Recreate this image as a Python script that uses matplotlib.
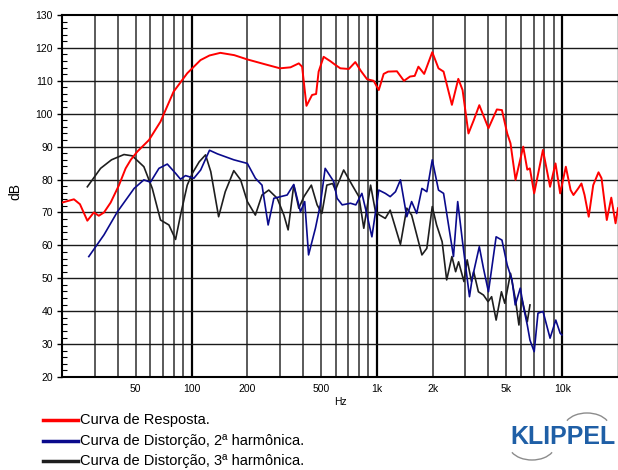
import matplotlib
matplotlib.use("Agg")
import matplotlib.pyplot as plt
from matplotlib.patches import Arc
import numpy as np

plt.rcParams['font.family'] = ['Liberation Sans', 'DejaVu Sans']

# Curva de resposta (Hz, dB)
red_f = [20, 23.2, 25, 27.4, 29.7, 31.6, 33.7, 36.6, 40.6, 44.1, 47, 51, 58.9, 68, 80, 94.8,
         111.8, 125, 143, 170, 200, 250, 300, 342, 379, 395, 417, 447, 470, 485, 516, 560,
         598, 635, 706, 765, 820, 885, 961, 1024, 1088, 1150, 1283, 1400, 1510, 1600, 1675,
         1800, 1990, 2150, 2290, 2540, 2750, 2900, 3120, 3330, 3570, 4000, 4440, 4730, 5050,
         5260, 5600, 6160, 6480, 6690, 7060, 7870, 8600, 9200, 9750, 10460, 11100, 11500,
         12200, 12700, 13200, 13900, 14700, 15700, 16300, 17400, 18400, 19400, 20000]
red_db = [73, 74, 72.5, 67.5, 70, 69, 70, 73, 78.3, 83.4, 86, 88.5, 92, 97.6, 106.7, 112.3,
          116.3, 117.7, 118.5, 117.8, 116.5, 115, 113.8, 114.1, 115.3, 114.3, 102.4, 105.7,
          106, 112.8, 117.3, 116, 114.8, 113.8, 113.6, 115.7, 113, 110.5, 110, 107.2, 112.1,
          112.8, 112.9, 110, 111.3, 111.5, 114.3, 112.1, 118.7, 113.8, 112.8, 102.7, 110.6,
          107.2, 94, 98, 102.6, 95.6, 101.3, 101.1, 94, 91, 79.9, 90, 83, 83.4, 75.8, 89,
          77.8, 84.9, 75.8, 83.9, 76.8, 75.3, 77.3, 78.8, 75.3, 68.7, 78.3, 82.2, 80.4, 67.7,
          74.5, 66.7, 71.3]

# Distorcao 2a harmonica
blue_f = [27.9, 33.7, 39.8, 49, 55.3, 60, 66.7, 74, 82, 87.2, 92.8, 103, 112, 125, 138, 169,
          200, 221, 240, 259, 278, 302, 328, 356, 387, 408, 428, 466, 495, 526, 585, 610, 650,
          720, 770, 830, 885, 940, 1024, 1110, 1180, 1260, 1340, 1450, 1540, 1640, 1750, 1860,
          1990, 2150, 2290, 2590, 2730, 2900, 3160, 3270, 3570, 3760, 4000, 4400, 4730, 5050,
          5360, 5580, 5940, 6200, 6480, 6700, 7060, 7400, 7880, 8600, 9230, 9750, 9960]
blue_db = [56.6, 63.2, 70.2, 77.3, 79.9, 79.2, 83.4, 84.7, 81.9, 80.1, 81.2, 80.4, 82.9, 88.9,
           87.8, 86, 84.9, 80.4, 78.3, 66.2, 74.3, 74.8, 75.3, 78.5, 70.2, 73.3, 57.1, 65.2,
           72.3, 83.4, 79.4, 74.3, 72.3, 72.8, 72.3, 75.8, 69.2, 62.6, 76.8, 75.8, 74.8, 76.3,
           79.9, 68.7, 73.3, 69.7, 77.3, 76.3, 86, 76.8, 75.8, 56.6, 73.3, 61, 44.4, 50, 59.6,
           53, 45.9, 62.6, 61.6, 54, 49.5, 41.9, 47, 40.9, 35.8, 31.2, 27.7, 39.4, 39.9, 31.8,
           37.3, 33.3, 32.8]

# Distorcao 3a harmonica
black_f = [27.4, 32.3, 37, 43.2, 47.9, 55.3, 61.4, 68, 75.5, 82, 87.2, 94.8, 101, 110, 119,
           127, 140, 152, 169, 184, 200, 221, 240, 261, 290, 315, 332, 356, 379, 404, 443, 476,
           505, 537, 577, 597, 662, 736, 800, 850, 925, 983, 1035, 1110, 1180, 1340, 1450,
           1540, 1750, 1860, 1990, 2100, 2250, 2380, 2540, 2660, 2760, 2950, 3070, 3240, 3330,
           3530, 3760, 3980, 4160, 4400, 4700, 4900, 5260, 5600, 5840, 6050, 6480, 6700]
black_db = [77.8, 83.4, 86, 87.6, 87.2, 83.9, 77.3, 67.7, 66.2, 61.8, 69.2, 78.3, 81.9, 85.4,
            87.5, 82.4, 68.7, 76.3, 82.7, 79.9, 73.3, 69.2, 75.3, 76.8, 74.3, 69.2, 64.7, 78.3,
            71.3, 74.8, 78.3, 72.3, 69.7, 78.3, 78.8, 76.8, 82.9, 78.3, 74.8, 65.2, 78.3, 70.2,
            69.2, 68.2, 70.7, 60.3, 71.3, 69.2, 57.1, 59.1, 71.8, 66.2, 61.1, 49.5, 56.6, 52,
            55, 49, 55.6, 49, 52, 45.9, 44.9, 42.9, 44.4, 37.3, 45.9, 42.4, 51.5, 43.4, 35.8,
            43.9, 36.8, 41.9]

xtick_vals = [50, 100, 200, 500, 1000, 2000, 5000, 10000]
xtick_labels = ['50', '100', '200', '500', '1k', '2k', '5k', '10k']
legend_labels = ['Curva de Resposta.', 'Curva de Distorção, 2ª harmônica.',
                 'Curva de Distorção, 3ª harmônica.']
colors = ['#ff0000', '#0a0a8c', '#1e1e1e']

fig = plt.figure(figsize=(6.18, 4.70), dpi=100)
ax = fig.add_axes([62 / 618, 93 / 470, 556 / 618, 362 / 470])
ax.set_xscale('log')
ax.set_xlim(20, 20000)
ax.set_ylim(20, 130)

# grade
for dec in [10, 100, 1000]:
    for m in range(2, 10):
        f = m * dec
        if 20 < f < 10000:
            ax.axvline(f, color='#4d4d4d', lw=1.3, zorder=1)
for f in [100, 1000, 10000]:
    ax.axvline(f, color='black', lw=1.6, zorder=1)
for y in range(30, 130, 10):
    ax.axhline(y, color='#1a1a1a', lw=1.0, zorder=1)

ax.plot(red_f, red_db, color=colors[0], lw=1.4, zorder=3)
ax.plot(blue_f, blue_db, color=colors[1], lw=1.2, zorder=3)
ax.plot(black_f, black_db, color=colors[2], lw=1.2, zorder=2)

ax.set_xticks(xtick_vals)
ax.set_xticklabels(xtick_labels)
ax.xaxis.set_minor_locator(matplotlib.ticker.NullLocator())
ax.tick_params(axis='x', length=0, labelsize=7.5, pad=5)
ax.set_yticks(range(20, 131, 10))
ax.set_yticks(range(20, 131, 2), minor=True)
ax.tick_params(axis='y', which='major', length=3.5, width=1, direction='out', labelsize=7.5, pad=3)
ax.tick_params(axis='y', which='minor', length=3.5, width=0.8, direction='in')

for s in ['left', 'bottom', 'top']:
    ax.spines[s].set_linewidth(1.5)
ax.spines['right'].set_linewidth(1.0)

fig.text(340 / 618, 1 - 402 / 470, 'Hz', ha='center', va='center', fontsize=7.5)
fig.text(15 / 618, 1 - 192 / 470, 'dB', ha='center', va='center', rotation=90, fontsize=10)

# legenda
rows = [420, 441, 461]
for lab, c, yy in zip(legend_labels, colors, rows):
    yf = 1 - yy / 470
    fig.add_artist(plt.Line2D([43 / 618, 78 / 618], [yf, yf], color=c, lw=2.5))
    fig.text(80 / 618, yf, lab, ha='left', va='center', fontsize=10.5)

# logo
lax = fig.add_axes([500 / 618, 0, 118 / 618, 70 / 470])
lax.set_xlim(500, 618)
lax.set_ylim(470, 400)
lax.axis('off')
lax.text(563, 437, 'KLIPPEL', ha='center', va='center', fontsize=18, fontweight='bold',
         color='#1f5fa6', family=['Liberation Sans Narrow', 'Liberation Sans'])
lax.add_patch(Arc((587, 428), 46, 30, theta1=200, theta2=340, color='#8c8c8c', lw=1.0))
lax.add_patch(Arc((532, 445), 46, 30, theta1=20, theta2=160, color='#8c8c8c', lw=1.0))

fig.savefig('out.png', dpi=100)
